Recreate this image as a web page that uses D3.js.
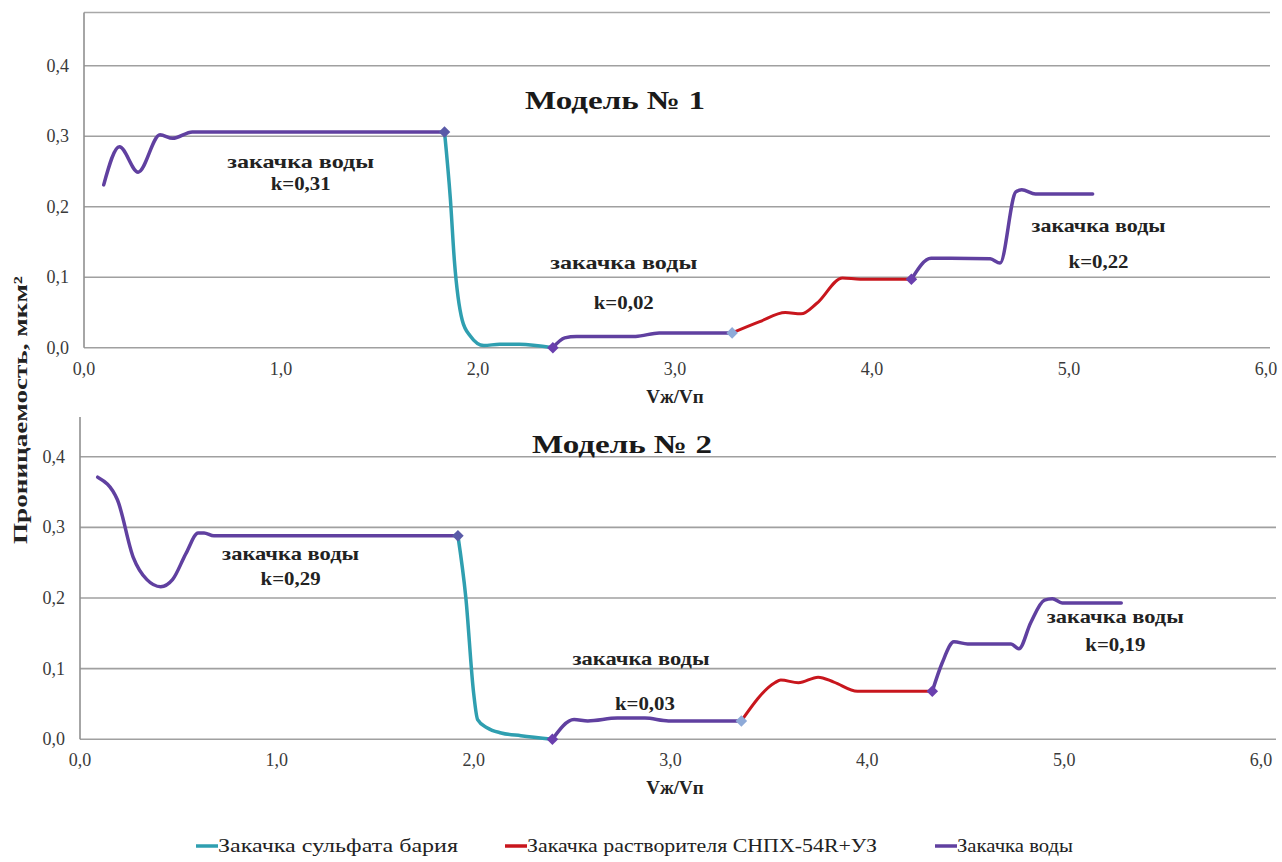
<!DOCTYPE html>
<html>
<head>
<meta charset="utf-8">
<script src="https://cdn.jsdelivr.net/npm/d3@7"></script>
<style>
  body { margin: 0; background: #fff; }
</style>
</head>
<body>
<div id="chart"></div>
<script>
// ---- data ----
const xTicks = [0, 1, 2, 3, 4, 5, 6];
const yTicks = [0, 0.1, 0.2, 0.3, 0.4];

// Model 1
const m1Water1 = [[0.10,0.231],[0.18,0.285],[0.275,0.249],[0.386,0.302],[0.45,0.297],[0.55,0.306],[0.75,0.306],[1.83,0.306]];
const m1Barium = [[1.83,0.306],[1.86,0.21],[1.88,0.124],[1.92,0.039],[1.96,0.017],[2.03,0.003],[2.11,0.005],[2.21,0.005],[2.38,0.0]];
const m1Water2 = [[2.38,0.0],[2.44,0.014],[2.50,0.016],[2.80,0.016],[2.92,0.021],[3.29,0.021]];
const m1Solvent = [[3.29,0.021],[3.43,0.037],[3.56,0.050],[3.64,0.048],[3.72,0.063],[3.85,0.099],[3.94,0.097],[4.20,0.097]];
const m1Water3 = [[4.20,0.097],[4.30,0.127],[4.40,0.127],[4.60,0.126],[4.65,0.120],[4.73,0.221],[4.76,0.224],[4.83,0.218],[5.12,0.218]];
const m1Markers = [[1.83,0.306,"end"],[2.38,0.0,"start"],[3.29,0.021,"light"],[4.20,0.097,"start"]];

// Model 2
const m2Water1 = [[0.09,0.371],[0.19,0.339],[0.27,0.258],[0.34,0.226],[0.41,0.216],[0.47,0.226],[0.54,0.264],[0.60,0.292],[0.63,0.292],[0.68,0.288],[1.92,0.288]];
const m2Barium = [[1.92,0.288],[1.96,0.201],[2.00,0.065],[2.02,0.028],[2.07,0.016],[2.14,0.009],[2.24,0.005],[2.40,0.0]];
const m2Water2 = [[2.40,0.0],[2.51,0.028],[2.58,0.026],[2.73,0.030],[2.87,0.030],[2.99,0.026],[3.36,0.026]];
const m2Solvent = [[3.36,0.026],[3.53,0.080],[3.56,0.084],[3.65,0.080],[3.75,0.088],[3.83,0.081],[3.95,0.068],[4.04,0.068],[4.33,0.068]];
const m2Water3 = [[4.33,0.068],[4.38,0.108],[4.44,0.138],[4.51,0.135],[4.73,0.135],[4.77,0.128],[4.83,0.165],[4.90,0.197],[4.94,0.199],[4.99,0.193],[5.29,0.193]];
const m2Markers = [[1.92,0.288,"end"],[2.40,0.0,"start"],[3.36,0.026,"light"],[4.33,0.068,"start"]];

// [x, y, text, width in px]
const m1Notes = [[1.1,0.255,"закачка воды",147],[1.1,0.223,"k=0,31",60],[2.74,0.111,"закачка воды",147],[2.74,0.055,"k=0,02",60],[5.15,0.164,"закачка воды",134],[5.15,0.113,"k=0,22",60]];
const m2Notes = [[1.07,0.254,"закачка воды",137],[1.07,0.219,"k=0,29",60],[2.85,0.105,"закачка воды",137],[2.87,0.041,"k=0,03",60],[5.26,0.165,"закачка воды",137],[5.26,0.125,"k=0,19",60]];

const legendNames = ["Закачка сульфата бария", "Закачка растворителя СНПХ-54R+УЗ", "Закачка воды"];

const colors = { barium: "#2f9fb0", solvent: "#c8161d", water: "#6040a0" };
const markerColors = { end: "#5a5aa8", start: "#6a3fae", light: "#8eaad8" };
const serif = "'Liberation Serif', 'DejaVu Serif', 'Times New Roman', serif";

const W = 1282, H = 862;
const svg = d3.select("#chart").append("svg")
  .attr("width", W).attr("height", H)
  .attr("font-family", serif)
  .style("font-family", serif);

const fmt = d => d.toFixed(1).replace(".", ",");

function panel(p) {
  const x = d3.scaleLinear().domain([0, 6]).range([p.left, p.x6]);
  const y = d3.scaleLinear().domain([0, 0.4]).range([p.y0, p.y4]);
  const g = svg.append("g");

  // grid
  g.selectAll(".grid").data(yTicks).join("line")
    .attr("x1", p.left).attr("x2", p.right)
    .attr("y1", d => y(d)).attr("y2", d => y(d))
    .attr("stroke", "#a0a0a0").attr("stroke-width", 1.6);
  if (p.topBorder) {
    g.append("line").attr("x1", p.left).attr("x2", p.right)
      .attr("y1", p.top).attr("y2", p.top)
      .attr("stroke", "#a8a8a8").attr("stroke-width", 1.6);
  }
  g.append("line").attr("x1", p.left).attr("x2", p.left)
    .attr("y1", p.top).attr("y2", y(0))
    .attr("stroke", "#909090").attr("stroke-width", 1.6);

  // tick labels
  g.selectAll(".yt").data(yTicks).join("text")
    .attr("x", p.left - 15).attr("y", d => y(d) + 6)
    .attr("text-anchor", "end").attr("font-size", 18).attr("fill", "#3a3a3a")
    .text(fmt);
  g.selectAll(".xt").data(xTicks).join("text")
    .attr("x", d => x(d)).attr("y", y(0) + 27)
    .attr("text-anchor", "middle").attr("font-size", 18).attr("fill", "#3a3a3a")
    .text(fmt);

  g.append("text").attr("x", 675).attr("y", y(0) + 55)
    .attr("text-anchor", "middle").attr("font-size", 19).attr("font-weight", "bold")
    .attr("fill", "#222").text("Vж/Vп");

  g.append("text").attr("x", p.titleX).attr("y", p.titleY)
    .attr("text-anchor", "middle").attr("font-size", 26).attr("font-weight", "bold")
    .attr("textLength", 180).attr("lengthAdjust", "spacingAndGlyphs")
    .attr("fill", "#1a1a1a").text(p.title);

  const line = d3.line().x(d => x(d[0])).y(d => y(d[1])).curve(d3.curveMonotoneX);
  p.series.forEach(s => {
    g.append("path").attr("d", line(s.data)).attr("fill", "none")
      .attr("stroke", colors[s.kind]).attr("stroke-width", s.kind === "solvent" ? 3 : 3.5)
      .attr("stroke-linejoin", "round").attr("stroke-linecap", "round");
  });

  g.selectAll(".mk").data(p.markers).join("path")
    .attr("d", d3.symbol().type(d3.symbolDiamond2).size(85))
    .attr("transform", d => `translate(${x(d[0])},${y(d[1])})`)
    .attr("fill", d => markerColors[d[2]]);

  g.selectAll(".note").data(p.notes).join("text")
    .attr("x", d => x(d[0])).attr("y", d => y(d[1]))
    .attr("text-anchor", "middle").attr("font-size", 19).attr("font-weight", "bold")
    .attr("textLength", d => d[3]).attr("lengthAdjust", "spacingAndGlyphs")
    .attr("fill", "#222").text(d => d[2]);
}

panel({
  left: 84, right: 1270, x6: 1266, y0: 347.7, y4: 65.7, top: 12.5, topBorder: true,
  title: "Модель № 1", titleX: 615, titleY: 109,
  series: [
    { kind: "water", data: m1Water1 }, { kind: "barium", data: m1Barium },
    { kind: "water", data: m1Water2 }, { kind: "solvent", data: m1Solvent },
    { kind: "water", data: m1Water3 }
  ],
  markers: m1Markers, notes: m1Notes
});

panel({
  left: 80, right: 1276, x6: 1261, y0: 739.3, y4: 456.7, top: 417, topBorder: false,
  title: "Модель № 2", titleX: 622, titleY: 453,
  series: [
    { kind: "water", data: m2Water1 }, { kind: "barium", data: m2Barium },
    { kind: "water", data: m2Water2 }, { kind: "solvent", data: m2Solvent },
    { kind: "water", data: m2Water3 }
  ],
  markers: m2Markers, notes: m2Notes
});

// y axis title
svg.append("text")
  .attr("transform", "translate(27,410) rotate(-90)")
  .attr("text-anchor", "middle").attr("font-size", 19).attr("font-weight", "bold")
  .attr("textLength", 268).attr("lengthAdjust", "spacingAndGlyphs")
  .attr("fill", "#222")
  .text("Проницаемость, мкм²");

// legend
const legendX = [196, 505, 935];
const legendW = [240, 350, 116];
const legendKinds = ["barium", "solvent", "water"];
const lg = svg.append("g");
legendNames.forEach((name, i) => {
  lg.append("line").attr("x1", legendX[i]).attr("x2", legendX[i] + 22)
    .attr("y1", 846).attr("y2", 846)
    .attr("stroke", colors[legendKinds[i]]).attr("stroke-width", 3.5);
  lg.append("text").attr("x", legendX[i] + 22).attr("y", 852)
    .attr("font-size", 18).attr("fill", "#222")
    .attr("textLength", legendW[i]).attr("lengthAdjust", "spacingAndGlyphs")
    .text(name);
});
</script>
</body>
</html>
